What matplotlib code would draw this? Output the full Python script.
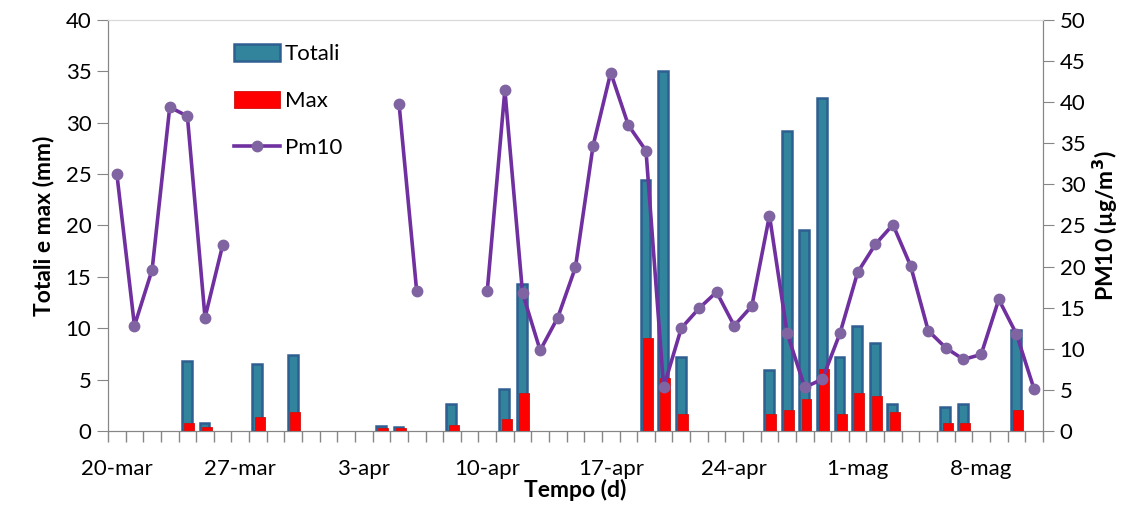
import numpy as np
import pandas as pd
import matplotlib
matplotlib.use("Agg")
import matplotlib.pyplot as plt

plt.rcParams['font.family'] = ['Lato', 'DejaVu Sans']

# giorni dal 20-mar all'11-mag
giorni = pd.date_range("2013-03-20", periods=53)
tick_labels = ["20-mar", "27-mar", "3-apr", "10-apr", "17-apr", "24-apr", "1-mag", "8-mag"]

totali = [0, 0, 0, 0, 6.8, 0.8, 0, 0, 6.5, 0, 7.4, 0, 0, 0, 0, 0.5, 0.4, 0, 0, 2.6,
          0, 0, 4.1, 14.3, 0, 0, 0, 0, 0, 0, 24.4, 35.0, 7.2, 0, 0, 0, 0, 5.9, 29.2, 19.6,
          32.4, 7.2, 10.2, 8.6, 2.6, 0, 0, 2.3, 2.6, 0, 0, 9.8, 0]
massimi = [0, 0, 0, 0, 0.75, 0.4, 0, 0, 1.4, 0, 1.8, 0, 0, 0, 0, 0.3, 0.25, 0, 0, 0.6,
           0, 0, 1.2, 3.7, 0, 0, 0, 0, 0, 0, 9.0, 5.2, 1.6, 0, 0, 0, 0, 1.6, 2.0, 3.1,
           6.0, 1.6, 3.7, 3.4, 1.8, 0, 0, 0.75, 0.75, 0, 0, 2.0, 0]
nan = np.nan
pm10 = [31.3, 12.8, 19.6, 39.4, 38.3, 13.8, 22.6, nan, nan, nan, nan, nan, nan, nan, nan, nan,
        39.8, 17.0, nan, nan, nan, 17.0, 41.5, 16.8, 9.8, 13.8, 19.9, 34.7, 43.6, 37.2, 34.1,
        5.3, 12.5, 14.9, 16.9, 12.8, 15.2, 26.2, 11.9, 5.3, 6.3, 11.9, 19.3, 22.7, 25.1, 20.1,
        12.2, 10.1, 8.7, 9.3, 16.0, 11.8, 5.1]

x = np.arange(len(giorni))
tot = np.array(totali, dtype=float)
mx = np.array(massimi, dtype=float)

fig = plt.figure(figsize=(11.25, 5.13), dpi=100)
ax = fig.add_axes([0.096, 0.16, 0.831, 0.801])
ax2 = ax.twinx()

m = tot > 0
b1 = ax.bar(x[m] - 0.03, tot[m], width=0.56, color='#31849B', edgecolor='#2F5E91',
            linewidth=1.8, label='Totali', zorder=2)
m = mx > 0
b2 = ax.bar(x[m] + 0.1, mx[m], width=0.56, color='#FF0000', edgecolor='#D01010',
            linewidth=0.6, label='Max', zorder=3)

l1, = ax2.plot(x, pm10, color='#7030A0', linewidth=2.6, marker='o', markersize=7.5,
               markerfacecolor='#8064A2', markeredgecolor='#8064A2', label='Pm10')

ax.set_xlim(-0.5, len(x) - 0.5)
ax.set_ylim(0, 40)
ax.set_yticks(range(0, 41, 5))
ax2.set_ylim(0, 50)
ax2.set_yticks(range(0, 51, 5))

ax.set_xticks(np.arange(0, len(x), 7))
ax.set_xticklabels(tick_labels)
ax.set_xticks(np.arange(-0.5, len(x), 1), minor=True)
ax.tick_params(axis='x', which='major', length=0, pad=20, labelsize=16)
ax.tick_params(axis='x', which='minor', length=8, color='#868686', width=1)
ax.tick_params(axis='y', length=8, color='#868686', labelsize=16, pad=4)
ax2.tick_params(axis='y', length=8, color='#868686', labelsize=16, pad=4)

for a in (ax, ax2):
    for s in ('left', 'right', 'bottom'):
        a.spines[s].set_color('#868686')
    a.spines['top'].set_color('#D9D9D9')

ax.set_ylabel('Totali e max (mm)', fontsize=16.5, fontweight='bold', labelpad=8)
ax2.set_ylabel(r'PM10 (µg/m$^{\mathbf{3}}$)', fontsize=16.5, fontweight='bold', labelpad=4)
ax.set_xlabel('Tempo (d)', fontsize=16.5, fontweight='bold', labelpad=0)

ax2.legend([b1, b2, l1], ['Totali', 'Max', 'Pm10'], loc='upper left',
           bbox_to_anchor=(0.113, 0.99), frameon=False, fontsize=16,
           handlelength=2.1, handleheight=0.8, handletextpad=0.2, labelspacing=1.2)

fig.savefig('out.png', dpi=100)
